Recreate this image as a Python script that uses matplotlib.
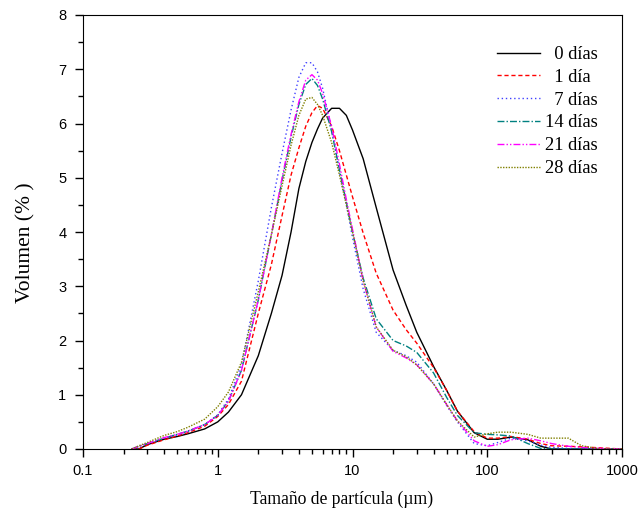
import matplotlib
matplotlib.use("Agg")
import matplotlib.pyplot as plt
from matplotlib.ticker import LogLocator, MultipleLocator, FixedFormatter, FixedLocator, NullFormatter

plt.rcParams['font.family'] = ['Liberation Sans', 'DejaVu Sans']

# particle size (um)
size = [0.23, 0.26, 0.3, 0.4, 0.5, 0.6, 0.8, 1, 1.2, 1.5, 2, 2.5, 3, 3.5, 4, 4.5,
        5, 5.5, 6, 7, 8, 9, 10, 12, 15, 20, 25, 30, 40, 50, 60, 80, 100, 120,
        150, 200, 250, 300, 400, 500, 700, 1000]

d0 = [0, 0, 0.08, 0.18, 0.23, 0.28, 0.37, 0.5, 0.68, 1.0, 1.72, 2.5, 3.2, 4.0, 4.8, 5.3,
      5.65, 5.9, 6.1, 6.28, 6.28, 6.15, 5.88, 5.35, 4.45, 3.3, 2.65, 2.15, 1.52, 1.08, 0.7, 0.3, 0.18, 0.18,
      0.22, 0.17, 0.05, 0, 0, 0, 0, 0]
d1 = [0, 0, 0.07, 0.17, 0.24, 0.3, 0.42, 0.6, 0.82, 1.25, 2.5, 3.4, 4.3, 5.05, 5.55, 5.95,
      6.2, 6.33, 6.28, 5.95, 5.5, 5.05, 4.65, 3.98, 3.24, 2.56, 2.2, 1.95, 1.5, 1.08, 0.7, 0.32, 0.2, 0.2,
      0.23, 0.18, 0.1, 0.06, 0.05, 0.04, 0.02, 0]
d7 = [0, 0.05, 0.1, 0.2, 0.26, 0.32, 0.45, 0.63, 0.92, 1.55, 3.1, 4.45, 5.45, 6.25, 6.85, 7.12,
      7.12, 6.95, 6.65, 5.9, 5.1, 4.5, 3.9, 2.95, 2.15, 1.82, 1.72, 1.6, 1.2, 0.8, 0.5, 0.1, 0.06, 0.12,
      0.2, 0.15, 0.07, 0.03, 0.01, 0, 0, 0]
d14 = [0, 0.05, 0.1, 0.2, 0.27, 0.33, 0.45, 0.62, 0.88, 1.45, 2.75, 3.95, 4.95, 5.75, 6.35, 6.72,
       6.83, 6.7, 6.45, 5.85, 5.15, 4.55, 4.0, 3.15, 2.4, 2.0, 1.9, 1.78, 1.4, 0.95, 0.62, 0.3, 0.27, 0.26,
       0.24, 0.1, 0.01, 0, 0, 0, 0, 0]
d21 = [0, 0.05, 0.1, 0.21, 0.27, 0.33, 0.45, 0.62, 0.88, 1.45, 2.75, 3.95, 5.0, 5.8, 6.4, 6.8,
       6.9, 6.8, 6.55, 5.95, 5.25, 4.6, 4.05, 3.1, 2.25, 1.8, 1.68, 1.55, 1.2, 0.82, 0.52, 0.15, 0.05, 0.08,
       0.17, 0.2, 0.15, 0.1, 0.05, 0.03, 0.01, 0]
d28 = [0, 0.06, 0.12, 0.25, 0.32, 0.4, 0.55, 0.78, 1.05, 1.6, 2.9, 3.95, 4.85, 5.6, 6.15, 6.45,
       6.48, 6.35, 6.15, 5.65, 5.05, 4.5, 4.0, 3.1, 2.25, 1.82, 1.7, 1.55, 1.2, 0.82, 0.52, 0.22, 0.28, 0.31,
       0.31, 0.27, 0.2, 0.2, 0.2, 0.06, 0, 0]

labels = ["  0 días", "  1 día", "  7 días", "14 días", "21 días", "28 días"]
xticks = [0.1, 1, 10, 100, 1000]
xticklabels = ['0.1', '1', '10', '100', '1000']

fig = plt.figure(figsize=(6.42, 5.17), dpi=100)
ax = fig.add_axes([83 / 642, 1 - 449 / 517, 539 / 642, 434 / 517])

ax.plot(size, d0, color='black', lw=1.0, label=labels[0])
ax.plot(size, d1, color='red', lw=1.0, ls=(0, (3, 2)), label=labels[1])
ax.plot(size, d7, color='#4040ff', lw=1.0, ls=(0, (1, 2)), label=labels[2])
ax.plot(size, d14, color='#008080', lw=1.0, ls=(0, (5, 1.5, 1, 1.5)), label=labels[3])
ax.plot(size, d21, color='#ff00ff', lw=1.0, ls=(0, (5, 1.5, 1, 1.5, 1, 1.5)), label=labels[4])
ax.plot(size, d28, color='#808000', lw=1.0, ls=(0, (1, 1)), label=labels[5])

ax.set_xscale('log')
ax.set_xlim(0.1, 1000)
ax.set_ylim(0, 8)
ax.xaxis.set_major_locator(FixedLocator(xticks))
ax.xaxis.set_major_formatter(FixedFormatter(xticklabels))
ax.xaxis.set_minor_locator(LogLocator(base=10, subs=range(2, 10), numticks=20))
ax.xaxis.set_minor_formatter(NullFormatter())
ax.yaxis.set_major_locator(MultipleLocator(1))
ax.yaxis.set_minor_locator(MultipleLocator(0.5))

ax.tick_params(which='both', direction='out', top=False, right=False, width=1.0)
ax.tick_params(which='major', length=6, labelsize=10.5)
ax.tick_params(which='minor', length=3.5)
ax.tick_params(axis='y', which='major', pad=6)
ax.tick_params(axis='x', which='major', pad=5)

ax.set_xlabel('Tamaño de partícula (µm)', fontfamily='Liberation Serif', fontsize=12.7)
ax.set_ylabel('Volumen (% )', fontfamily='Liberation Serif', fontsize=15.5)
ax.xaxis.set_label_coords(0.48, -0.096)
ax.yaxis.set_label_coords(-0.088, 0.475)

leg = ax.legend(loc='upper left', bbox_to_anchor=(0.768, 0.9285), frameon=False,
                handlelength=2.32, handletextpad=0.27, borderpad=0, borderaxespad=0,
                labelspacing=0.315, prop={'family': 'Liberation Serif', 'size': 13.3})

plt.savefig("out.png", dpi=100)
